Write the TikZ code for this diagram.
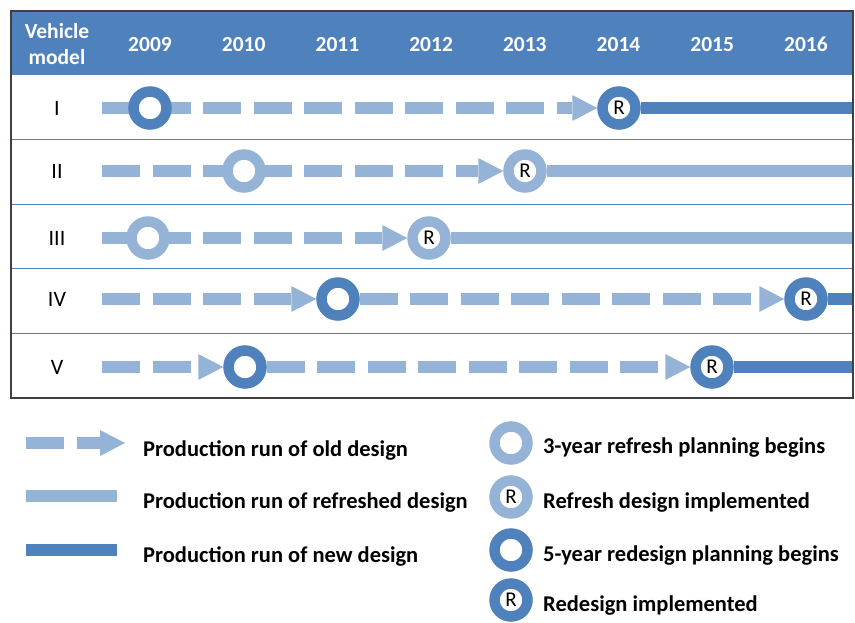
\documentclass[tikz,border=0pt]{standalone}
\usepackage{fontspec}
\setmainfont{Carlito}
\usepackage{xcolor}
\definecolor{ChartBlue}{RGB}{79,129,189}
\definecolor{ChartLight}{RGB}{149,179,215}
\definecolor{FrameGray}{RGB}{64,64,64}
\usepackage{tikz}
\usetikzlibrary{arrows.meta,backgrounds}

\begin{document}
\begin{tikzpicture}[x=1pt,y=-1pt,
  yearlbl/.style={font=\bfseries\fontsize{21.5}{26}\selectfont,text=white,inner sep=0pt},
  rowlbl/.style={font=\fontsize{22}{22}\selectfont,inner sep=0pt},
  legtext/.style={font=\bfseries\fontsize{22.5}{23}\selectfont,anchor=base west,inner sep=0pt},
  ring/.style={circle,fill=white,line width=10.5pt,minimum size=33pt,inner sep=0pt,
    font=\fontsize{21}{21}\selectfont},
  refresh/.style={ring,draw=ChartLight},
  redesign/.style={ring,draw=ChartBlue},
  oldrun/.style={ChartLight,line width=12pt,dash pattern=on 38pt off 12.5pt,
    -{Triangle[length=25pt,width=26pt,line width=0pt]}},
  freshrun/.style={ChartLight,line width=12pt},
  newrun/.style={ChartBlue,line width=12pt}]
\useasboundingbox (0,0) rectangle (855,622);
% header band and frame
\fill[ChartBlue] (11,11) rectangle (853,75);
\foreach \y in {139,204,268,333}{
  \draw[ChartBlue,line width=1pt] (11,\y) -- (853,\y);
}
\draw[FrameGray,line width=1.2pt] (11,11) rectangle (853,398);
\draw[FrameGray,line width=2pt] (11,398) -- (853,398);
\node[yearlbl,align=center] (hdr) at (57,44) {Vehicle\\model};
\foreach \yr [count=\k from 0] in {2009,...,2016}{
  \node[yearlbl] (y\yr) at ({150+93.7*\k},44.5) {\yr};
}
% vehicle models
\foreach \m/\y in {I/108,II/171,III/238,IV/299,V/367}{
  \node[rowlbl] (m\m) at (57,\y) {\m};
}
\node[redesign] (p1) at (150,108) {};
\node[redesign] (r1) at (619,108) {R};
\node[refresh] (p2) at (244,171) {};
\node[refresh] (r2) at (525,171) {R};
\node[refresh] (p3) at (148,238) {};
\node[refresh] (r3) at (429,238) {R};
\node[redesign] (p4) at (338,299) {};
\node[redesign] (r4) at (806,299) {R};
\node[redesign] (p5) at (245,367) {};
\node[redesign] (r5) at (712,367) {R};
\foreach \i/\y in {1/108,2/171,3/238,4/299,5/367}{
  \coordinate (s\i) at (102,\y);
  \coordinate (e\i) at (853,\y);
}
\begin{scope}[on background layer]
\draw[oldrun] (s1) -- (r1);
\draw[newrun] (r1) -- (e1);
\draw[oldrun] (s2) -- (r2);
\draw[freshrun] (r2) -- (e2);
\draw[oldrun] (s3) -- (r3);
\draw[freshrun] (r3) -- (e3);
\draw[oldrun] (s4) -- (p4);
\draw[oldrun] (p4) -- (r4);
\draw[newrun] (r4) -- (e4);
\draw[oldrun] (s5) -- (p5);
\draw[oldrun] (p5) -- (r5);
\draw[newrun] (r5) -- (e5);
\end{scope}
% legend
\coordinate (k1a) at (26,443);
\coordinate (k1b) at (125,443);
\coordinate (k2a) at (26,496);
\coordinate (k2b) at (117,496);
\coordinate (k3a) at (26,550);
\coordinate (k3b) at (117,550);
\draw[oldrun] (k1a) -- (k1b);
\draw[freshrun] (k2a) -- (k2b);
\draw[newrun] (k3a) -- (k3b);
\node[legtext] (t1) at (143,456) {Production run of old design};
\node[legtext] (t2) at (143,508) {Production run of refreshed design};
\node[legtext] (t3) at (143,562) {Production run of new design};
\node[refresh] (g1) at (511,443) {};
\node[refresh] (g2) at (511,497) {R};
\node[redesign] (g3) at (511,550) {};
\node[redesign] (g4) at (511,600) {R};
\node[legtext] (u1) at (543,453) {3-year refresh planning begins};
\node[legtext] (u2) at (543,508) {Refresh design implemented};
\node[legtext] (u3) at (543,561) {5-year redesign planning begins};
\node[legtext] (u4) at (543,611) {Redesign implemented};
\end{tikzpicture}
\end{document}
